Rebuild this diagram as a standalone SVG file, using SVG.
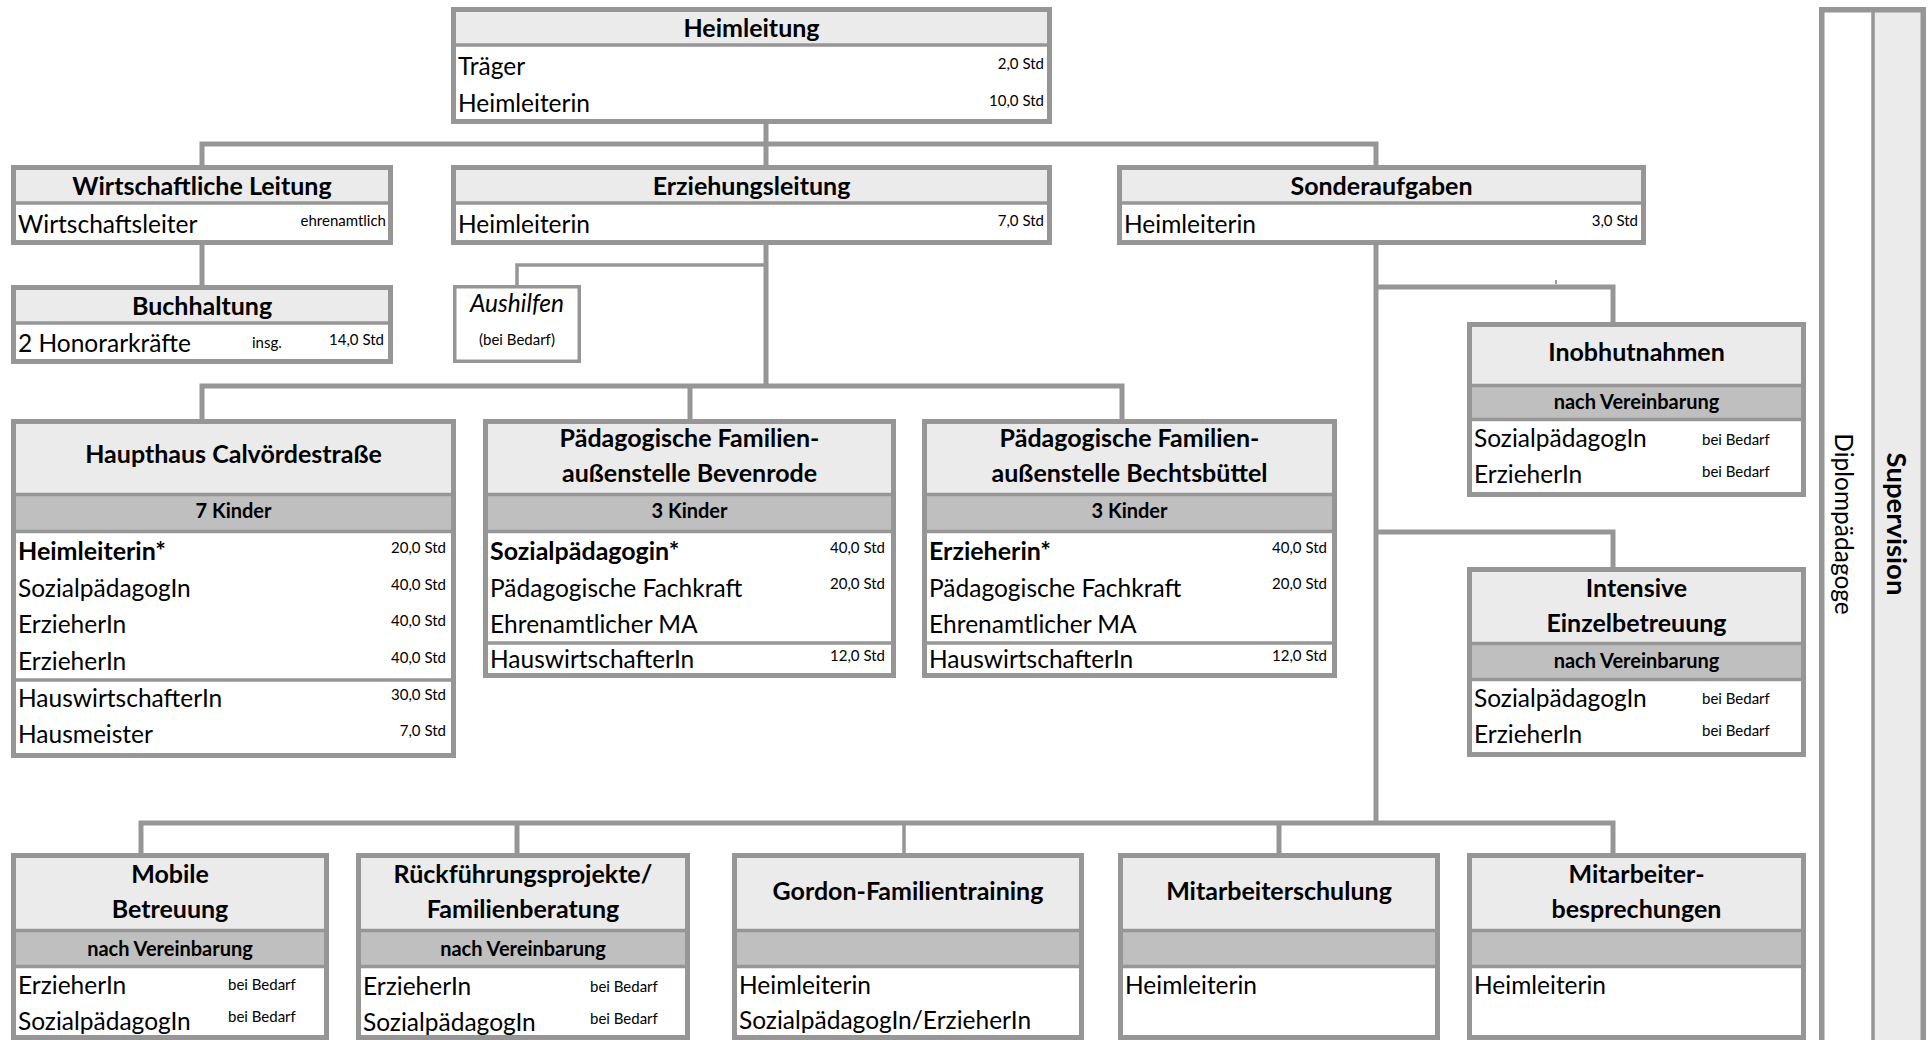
<svg xmlns="http://www.w3.org/2000/svg" width="1932" height="1040" viewBox="0 0 1932 1040">
<style>
.bg{fill:#fff}
.hd{fill:#ebebeb}
.sb{fill:#bfbfbf}
.bd{fill:none;stroke:#969696;stroke-width:5}
.sep{stroke:#969696;stroke-width:3.5}
.c{fill:none;stroke:#969696;stroke-width:5}
.ct{fill:none;stroke:#969696;stroke-width:3.5}
text{font-family:Lato,"Liberation Sans",sans-serif;font-size:24.5px;fill:#000}
.h{font-weight:bold;text-anchor:middle;font-size:25px}
.s{font-size:15px}
.r{text-anchor:end}
.m{text-anchor:middle}
.sub{font-size:20px;font-weight:bold;text-anchor:middle}
.bo{font-weight:bold;font-size:25px}
</style>
<rect width="1932" height="1040" fill="#fff"/>
<g id="connectors">
<path class="c" d="M202 165 V144 H1376 V165"/>
<path class="c" d="M766 124 V165"/>
<path class="c" d="M202 245 V285"/>
<path class="c" d="M766 245 V386"/>
<path class="c" d="M202 419 V386 H1122 V419"/>
<path class="c" d="M690 386 V419"/>
<path class="ct" d="M766 265 H517 V285"/>
<path class="c" d="M1376 245 V823"/>
<path class="c" d="M1376 287 H1613 V322"/>
<path class="c" d="M1376 532 H1613 V567"/>
<path class="c" d="M141 853 V823 H1613 V853"/>
<path class="c" d="M517 823 V853"/>
<path class="ct" d="M904 823 V853"/>
<path class="c" d="M1279 823 V853"/>
</g>
<line x1="1556" y1="280" x2="1556" y2="284" stroke="#333" stroke-width="1"/>

<g id="heimleitung">
<rect class="bg" x="451" y="7" width="601" height="117"/>
<rect class="hd" x="451" y="7" width="601" height="38"/>
<line class="sep" x1="451" y1="45" x2="1052" y2="45"/>
<rect class="bd" x="453.5" y="9.5" width="596" height="112"/>
<text class="h" x="751.5" y="37">Heimleitung</text>
<text x="458" y="75">Träger</text>
<text class="s r" x="1044" y="69">2,0 Std</text>
<text x="458" y="112">Heimleiterin</text>
<text class="s r" x="1044" y="106">10,0 Std</text>
</g>

<g id="wirtschaftliche-leitung">
<rect class="bg" x="11" y="165" width="382" height="80"/>
<rect class="hd" x="11" y="165" width="382" height="38"/>
<line class="sep" x1="11" y1="203" x2="393" y2="203"/>
<rect class="bd" x="13.5" y="167.5" width="377" height="75"/>
<text class="h" x="202" y="195">Wirtschaftliche Leitung</text>
<text x="18" y="233">Wirtschaftsleiter</text>
<text class="s r" x="386" y="226">ehrenamtlich</text>
</g>

<g id="buchhaltung">
<rect class="bg" x="11" y="285" width="382" height="79"/>
<rect class="hd" x="11" y="285" width="382" height="38"/>
<line class="sep" x1="11" y1="323" x2="393" y2="323"/>
<rect class="bd" x="13.5" y="287.5" width="377" height="74"/>
<text class="h" x="202" y="315">Buchhaltung</text>
<text x="18" y="352">2 Honorarkräfte</text>
<text class="s" x="252" y="348">insg.</text>
<text class="s r" x="384" y="345">14,0 Std</text>
</g>

<g id="erziehungsleitung">
<rect class="bg" x="451" y="165" width="601" height="80"/>
<rect class="hd" x="451" y="165" width="601" height="38"/>
<line class="sep" x1="451" y1="203" x2="1052" y2="203"/>
<rect class="bd" x="453.5" y="167.5" width="596" height="75"/>
<text class="h" x="751.5" y="195">Erziehungsleitung</text>
<text x="458" y="233">Heimleiterin</text>
<text class="s r" x="1044" y="226">7,0 Std</text>
</g>

<g id="sonderaufgaben">
<rect class="bg" x="1117" y="165" width="529" height="80"/>
<rect class="hd" x="1117" y="165" width="529" height="38"/>
<line class="sep" x1="1117" y1="203" x2="1646" y2="203"/>
<rect class="bd" x="1119.5" y="167.5" width="524" height="75"/>
<text class="h" x="1381.5" y="195">Sonderaufgaben</text>
<text x="1124" y="233">Heimleiterin</text>
<text class="s r" x="1638" y="226">3,0 Std</text>
</g>

<g id="aushilfen">
<rect x="454.75" y="286.75" width="124.5" height="74.5" fill="#fff" stroke="#969696" stroke-width="3.5"/>
<text class="m" x="517" y="312" font-style="italic" font-size="25">Aushilfen</text>
<text class="s m" x="517" y="345">(bei Bedarf)</text>
</g>

<g id="haupthaus">
<rect class="bg" x="11" y="419" width="445" height="339"/>
<rect class="hd" x="11" y="419" width="445" height="75"/>
<rect class="sb" x="11" y="494" width="445" height="37"/>
<line class="sep" x1="11" y1="494.5" x2="456" y2="494.5"/>
<line class="sep" x1="11" y1="531.5" x2="456" y2="531.5"/>
<line class="sep" x1="11" y1="680" x2="456" y2="680"/>
<rect class="bd" x="13.5" y="421.5" width="440" height="334"/>
<text class="h" x="233.5" y="463">Haupthaus Calvördestraße</text>
<text class="sub" x="233.5" y="518">7 Kinder</text>
<text class="bo" x="18" y="560">Heimleiterin*</text>
<text x="18" y="597">SozialpädagogIn</text>
<text x="18" y="633">ErzieherIn</text>
<text x="18" y="670">ErzieherIn</text>
<text x="18" y="707">HauswirtschafterIn</text>
<text x="18" y="743">Hausmeister</text>
<text class="s r" x="446" y="553">20,0 Std</text>
<text class="s r" x="446" y="590">40,0 Std</text>
<text class="s r" x="446" y="626">40,0 Std</text>
<text class="s r" x="446" y="663">40,0 Std</text>
<text class="s r" x="446" y="700">30,0 Std</text>
<text class="s r" x="446" y="736">7,0 Std</text>
</g>

<g id="bevenrode">
<rect class="bg" x="483" y="419" width="413" height="259"/>
<rect class="hd" x="483" y="419" width="413" height="75"/>
<rect class="sb" x="483" y="494" width="413" height="37"/>
<line class="sep" x1="483" y1="494.5" x2="896" y2="494.5"/>
<line class="sep" x1="483" y1="531.5" x2="896" y2="531.5"/>
<line class="sep" x1="483" y1="643" x2="896" y2="643"/>
<rect class="bd" x="485.5" y="421.5" width="408" height="254"/>
<text class="h" x="689.5" y="447">Pädagogische Familien-</text>
<text class="h" x="689.5" y="482">außenstelle Bevenrode</text>
<text class="sub" x="689.5" y="518">3 Kinder</text>
<text class="bo" x="490" y="560">Sozialpädagogin*</text>
<text x="490" y="597">Pädagogische Fachkraft</text>
<text x="490" y="633">Ehrenamtlicher MA</text>
<text x="490" y="668">HauswirtschafterIn</text>
<text class="s r" x="885" y="553">40,0 Std</text>
<text class="s r" x="885" y="589">20,0 Std</text>
<text class="s r" x="885" y="661">12,0 Std</text>
</g>

<g id="bechtsbuettel">
<rect class="bg" x="922" y="419" width="415" height="259"/>
<rect class="hd" x="922" y="419" width="415" height="75"/>
<rect class="sb" x="922" y="494" width="415" height="37"/>
<line class="sep" x1="922" y1="494.5" x2="1337" y2="494.5"/>
<line class="sep" x1="922" y1="531.5" x2="1337" y2="531.5"/>
<line class="sep" x1="922" y1="643" x2="1337" y2="643"/>
<rect class="bd" x="924.5" y="421.5" width="410" height="254"/>
<text class="h" x="1129.5" y="447">Pädagogische Familien-</text>
<text class="h" x="1129.5" y="482">außenstelle Bechtsbüttel</text>
<text class="sub" x="1129.5" y="518">3 Kinder</text>
<text class="bo" x="929" y="560">Erzieherin*</text>
<text x="929" y="597">Pädagogische Fachkraft</text>
<text x="929" y="633">Ehrenamtlicher MA</text>
<text x="929" y="668">HauswirtschafterIn</text>
<text class="s r" x="1327" y="553">40,0 Std</text>
<text class="s r" x="1327" y="589">20,0 Std</text>
<text class="s r" x="1327" y="661">12,0 Std</text>
</g>

<g id="inobhutnahmen">
<rect class="bg" x="1467" y="322" width="339" height="175"/>
<rect class="hd" x="1467" y="322" width="339" height="63"/>
<rect class="sb" x="1467" y="385" width="339" height="35"/>
<line class="sep" x1="1467" y1="385.5" x2="1806" y2="385.5"/>
<line class="sep" x1="1467" y1="419.5" x2="1806" y2="419.5"/>
<rect class="bd" x="1469.5" y="324.5" width="334" height="170"/>
<text class="h" x="1636.5" y="361">Inobhutnahmen</text>
<text class="sub" x="1636.5" y="409">nach Vereinbarung</text>
<text x="1474" y="447">SozialpädagogIn</text>
<text x="1474" y="483">ErzieherIn</text>
<text class="s" x="1702" y="445">bei Bedarf</text>
<text class="s" x="1702" y="477">bei Bedarf</text>
</g>

<g id="intensive-einzelbetreuung">
<rect class="bg" x="1467" y="567" width="339" height="190"/>
<rect class="hd" x="1467" y="567" width="339" height="76"/>
<rect class="sb" x="1467" y="643" width="339" height="36"/>
<line class="sep" x1="1467" y1="643.5" x2="1806" y2="643.5"/>
<line class="sep" x1="1467" y1="679.5" x2="1806" y2="679.5"/>
<rect class="bd" x="1469.5" y="569.5" width="334" height="185"/>
<text class="h" x="1636.5" y="597">Intensive</text>
<text class="h" x="1636.5" y="632">Einzelbetreuung</text>
<text class="sub" x="1636.5" y="668">nach Vereinbarung</text>
<text x="1474" y="707">SozialpädagogIn</text>
<text x="1474" y="743">ErzieherIn</text>
<text class="s" x="1702" y="704">bei Bedarf</text>
<text class="s" x="1702" y="736">bei Bedarf</text>
</g>

<g id="mobile-betreuung">
<rect class="bg" x="11" y="853" width="318" height="190"/>
<rect class="hd" x="11" y="853" width="318" height="77"/>
<rect class="sb" x="11" y="930" width="318" height="36"/>
<line class="sep" x1="11" y1="930.5" x2="329" y2="930.5"/>
<line class="sep" x1="11" y1="966.5" x2="329" y2="966.5"/>
<rect class="bd" x="13.5" y="855.5" width="313" height="182"/>
<text class="h" x="170" y="883">Mobile</text>
<text class="h" x="170" y="918">Betreuung</text>
<text class="sub" x="170" y="956">nach Vereinbarung</text>
<text x="18" y="994">ErzieherIn</text>
<text x="18" y="1030">SozialpädagogIn</text>
<text class="s" x="228" y="990">bei Bedarf</text>
<text class="s" x="228" y="1022">bei Bedarf</text>
</g>

<g id="rueckfuehrung">
<rect class="bg" x="356" y="853" width="334" height="190"/>
<rect class="hd" x="356" y="853" width="334" height="77"/>
<rect class="sb" x="356" y="930" width="334" height="36"/>
<line class="sep" x1="356" y1="930.5" x2="690" y2="930.5"/>
<line class="sep" x1="356" y1="966.5" x2="690" y2="966.5"/>
<rect class="bd" x="358.5" y="855.5" width="329" height="182"/>
<text class="h" x="523" y="883">Rückführungsprojekte/</text>
<text class="h" x="523" y="918">Familienberatung</text>
<text class="sub" x="523" y="956">nach Vereinbarung</text>
<text x="363" y="995">ErzieherIn</text>
<text x="363" y="1031">SozialpädagogIn</text>
<text class="s" x="590" y="992">bei Bedarf</text>
<text class="s" x="590" y="1024">bei Bedarf</text>
</g>

<g id="gordon">
<rect class="bg" x="732" y="853" width="352" height="190"/>
<rect class="hd" x="732" y="853" width="352" height="77"/>
<rect class="sb" x="732" y="930" width="352" height="36"/>
<line class="sep" x1="732" y1="930.5" x2="1084" y2="930.5"/>
<line class="sep" x1="732" y1="966.5" x2="1084" y2="966.5"/>
<rect class="bd" x="734.5" y="855.5" width="347" height="182"/>
<text class="h" x="908" y="900">Gordon-Familientraining</text>
<text x="739" y="994">Heimleiterin</text>
<text x="739" y="1029">SozialpädagogIn/ErzieherIn</text>
</g>

<g id="mitarbeiterschulung">
<rect class="bg" x="1118" y="853" width="322" height="190"/>
<rect class="hd" x="1118" y="853" width="322" height="77"/>
<rect class="sb" x="1118" y="930" width="322" height="36"/>
<line class="sep" x1="1118" y1="930.5" x2="1440" y2="930.5"/>
<line class="sep" x1="1118" y1="966.5" x2="1440" y2="966.5"/>
<rect class="bd" x="1120.5" y="855.5" width="317" height="182"/>
<text class="h" x="1279" y="900">Mitarbeiterschulung</text>
<text x="1125" y="994">Heimleiterin</text>
</g>

<g id="mitarbeiterbesprechungen">
<rect class="bg" x="1467" y="853" width="339" height="190"/>
<rect class="hd" x="1467" y="853" width="339" height="77"/>
<rect class="sb" x="1467" y="930" width="339" height="36"/>
<line class="sep" x1="1467" y1="930.5" x2="1806" y2="930.5"/>
<line class="sep" x1="1467" y1="966.5" x2="1806" y2="966.5"/>
<rect class="bd" x="1469.5" y="855.5" width="334" height="182"/>
<text class="h" x="1636.5" y="883">Mitarbeiter-</text>
<text class="h" x="1636.5" y="918">besprechungen</text>
<text x="1474" y="994">Heimleiterin</text>
</g>

<g id="supervision">
<rect class="bg" x="1819" y="7" width="107" height="1040"/>
<rect class="hd" x="1873" y="7" width="53" height="1040"/>
<line class="sep" x1="1873" y1="7" x2="1873" y2="1047"/>
<rect x="1821.75" y="9.75" width="101.5" height="1040" fill="none" stroke="#969696" stroke-width="5.5"/>
<text class="m" transform="translate(1835,524) rotate(90)" font-size="26.5">Diplompädagoge</text>
<text class="h" transform="translate(1887,524) rotate(90)" style="font-size:27.5px">Supervision</text>
</g>
</svg>
